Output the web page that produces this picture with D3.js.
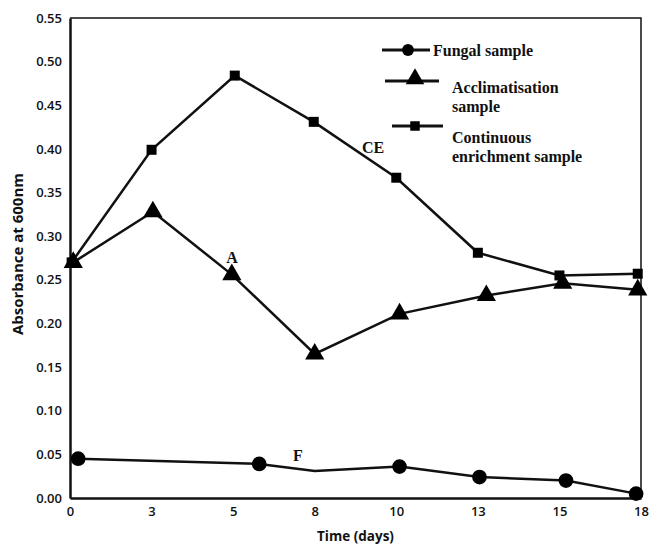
<!DOCTYPE html>
<html>
<head>
<meta charset="utf-8">
<script src="https://cdn.jsdelivr.net/npm/d3@7"></script>
<style>
  body { margin: 0; background: #fff; }
  .tick text { font-family: "Open Sans", sans-serif; font-weight: 600; font-size: 13px; fill: #111; }
</style>
</head>
<body>
<svg width="649" height="546"></svg>
<script>
// data
const fungalDays = [0.25, 5.8, 7.5, 10.1, 12.55, 15.2, 17.35]
const fungalValues = [0.045, 0.039, 0.031, 0.036, 0.024, 0.020, 0.005]
const fungalMarked = [true, true, false, true, true, true, true]

const acclimDays = [0.1, 2.54, 4.96, 7.5, 10.1, 12.76, 15.1, 17.4]
const acclimValues = [0.27, 0.328, 0.256, 0.165, 0.211, 0.232, 0.246, 0.2385]

const ceDays = [0.05, 2.5, 5.05, 7.47, 10.0, 12.5, 15.0, 17.4]
const ceValues = [0.27, 0.399, 0.484, 0.431, 0.367, 0.281, 0.255, 0.257]

const xTickValues = [0, 2.5, 5, 7.5, 10, 12.5, 15, 17.5]
const xTickLabels = ["0", "3", "5", "8", "10", "13", "15", "18"]
const yTickValues = [0, 0.05, 0.1, 0.15, 0.2, 0.25, 0.3, 0.35, 0.4, 0.45, 0.5, 0.55]

const legendNames = [["Fungal sample"], ["Acclimatisation", "sample"], ["Continuous", "enrichment sample"]]

const svg = d3.select("svg")
const pl = 70, pr = 641, pt = 18, pb = 498
const serif = "'Liberation Serif', 'Times New Roman', serif"

const x = d3.scaleLinear().domain([0, 17.5]).range([pl, pr])
const y = d3.scaleLinear().domain([0, 0.55]).range([pb, pt])

// frame (top and right)
svg.append("path")
  .attr("d", `M${pl},${pt}H${pr}V${pb}`)
  .attr("fill", "none").attr("stroke", "#111").attr("stroke-width", 1.5)

const yAxis = svg.append("g")
  .attr("transform", `translate(${pl},0)`)
  .call(d3.axisLeft(y).tickValues(yTickValues).tickSize(0).tickPadding(8).tickFormat(d3.format(".2f")))
yAxis.select(".domain").attr("stroke", "#111").attr("stroke-width", 2.5)

const xAxis = svg.append("g")
  .attr("transform", `translate(0,${pb})`)
  .call(d3.axisBottom(x).tickValues(xTickValues).tickSize(0).tickPadding(9)
    .tickFormat((d, i) => xTickLabels[i]))
xAxis.select(".domain").attr("stroke", "#111").attr("stroke-width", 2.5)

svg.append("text")
  .attr("x", (pl + pr) / 2).attr("y", 541)
  .attr("text-anchor", "middle")
  .style("font-family", "Open Sans, sans-serif").style("font-weight", 700).style("font-size", "13.5px")
  .attr("fill", "#111")
  .text("Time (days)")

svg.append("text")
  .attr("transform", "translate(23,254) rotate(-90)")
  .attr("text-anchor", "middle")
  .style("font-family", "Open Sans, sans-serif").style("font-weight", 700).style("font-size", "15px")
  .attr("fill", "#111")
  .text("Absorbance at 600nm")

const line = d3.line().x(d => x(d[0])).y(d => y(d[1]))

function series(days, values, symbol, size, marked) {
  const pts = days.map((d, i) => [d, values[i], marked ? marked[i] : true])
  svg.append("path")
    .attr("d", line(pts))
    .attr("fill", "none").attr("stroke", "#111").attr("stroke-width", 2.5)
  svg.selectAll(null).data(pts.filter(p => p[2])).enter()
    .append("path")
    .attr("d", d3.symbol().type(symbol).size(size))
    .attr("transform", d => `translate(${x(d[0])},${y(d[1])})`)
    .attr("fill", "#000")
}

series(ceDays, ceValues, d3.symbolSquare, 100)
series(acclimDays, acclimValues, d3.symbolTriangle, 160)
series(fungalDays, fungalValues, d3.symbolCircle, 170, fungalMarked)

// series labels
const tags = [["CE", 373, 153], ["A", 232, 263], ["F", 298, 461]]
tags.forEach(t => {
  svg.append("text")
    .attr("x", t[1]).attr("y", t[2]).attr("text-anchor", "middle")
    .style("font-family", serif).style("font-weight", "bold").style("font-size", "16px")
    .attr("fill", "#111").text(t[0])
})

// legend
const legendRows = [
  { x1: 382, x2: 430, ly: 50, mx: 408, sym: d3.symbolCircle, size: 110, tx: 433, ty: 56 },
  { x1: 385, x2: 439, ly: 81, mx: 415, sym: d3.symbolTriangle, size: 150, tx: 452, ty: 93 },
  { x1: 392, x2: 443, ly: 126, mx: 415, sym: d3.symbolSquare, size: 90, tx: 452, ty: 143 }
]
legendRows.forEach((r, i) => {
  svg.append("line").attr("x1", r.x1).attr("x2", r.x2).attr("y1", r.ly).attr("y2", r.ly)
    .attr("stroke", "#111").attr("stroke-width", 3)
  svg.append("path").attr("d", d3.symbol().type(r.sym).size(r.size))
    .attr("transform", `translate(${r.mx},${r.ly - (r.sym === d3.symbolTriangle ? 2 : 0)})`)
    .attr("fill", "#000")
  const t = svg.append("text")
    .style("font-family", serif).style("font-weight", "bold").style("font-size", "16px")
    .attr("fill", "#111")
    .attr("x", r.tx).attr("y", r.ty)
  legendNames[i].forEach((s, j) => {
    t.append("tspan").attr("x", r.tx).attr("dy", j === 0 ? 0 : 19).text(s)
  })
})
</script>
</body>
</html>
